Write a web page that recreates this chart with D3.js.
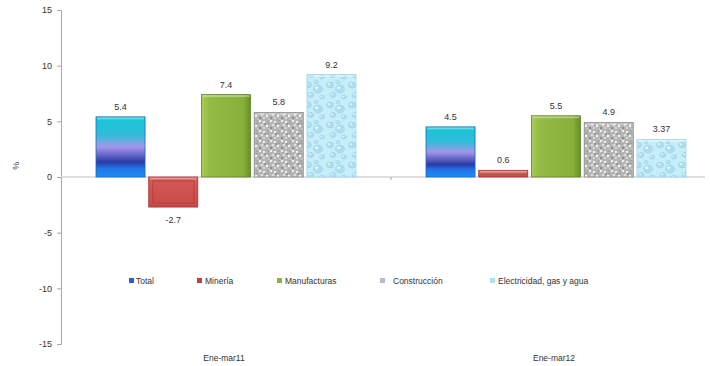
<!DOCTYPE html>
<html><head><meta charset="utf-8">
<script src="https://cdn.jsdelivr.net/npm/d3@7"></script>
<style>body{margin:0;background:#fff}svg{display:block}</style>
</head><body>
<script>
const categories = ["Ene-mar11", "Ene-mar12"];
const series = ["Total", "Minería", "Manufacturas", "Construcción", "Electricidad, gas y agua"];
const valueLabels = [["5.4", "-2.7", "7.4", "5.8", "9.2"], ["4.5", "0.6", "5.5", "4.9", "3.37"]];
const values = [[5.4, -2.7, 7.4, 5.8, 9.2], [4.5, 0.6, 5.5, 4.9, 3.37]];
const yTicks = [-15, -10, -5, 0, 5, 10, 15];

const W = 710, H = 366;
const svg = d3.select("body").append("svg").attr("width", W).attr("height", H);
const defs = svg.append("defs");
const font = "'Liberation Sans', Arial, sans-serif";

// gradients / patterns
const gT = defs.append("linearGradient").attr("id", "gTotal").attr("x1", 0).attr("y1", 0).attr("x2", 0).attr("y2", 1);
[[0, "#16c6d6"], [0.3, "#30bcd8"], [0.5, "#a496ec"], [0.62, "#6a6cc8"], [0.75, "#2a3aa8"], [0.86, "#2276e8"], [1, "#1a8ef0"]]
  .forEach(([o, c]) => gT.append("stop").attr("offset", o).attr("stop-color", c));
const gM = defs.append("linearGradient").attr("id", "gMan").attr("x1", 0).attr("y1", 0).attr("x2", 1).attr("y2", 0);
[[0, "#a8cc58"], [0.15, "#94bc44"], [0.85, "#86b03a"], [1, "#668e28"]]
  .forEach(([o, c]) => gM.append("stop").attr("offset", o).attr("stop-color", c));
const gR = defs.append("linearGradient").attr("id", "gMin").attr("x1", 0).attr("y1", 0).attr("x2", 0).attr("y2", 1);
[[0, "#d85a56"], [1, "#c84a46"]].forEach(([o, c]) => gR.append("stop").attr("offset", o).attr("stop-color", c));

// granite texture (deterministic)
const pc = defs.append("pattern").attr("id", "pCon").attr("patternUnits", "userSpaceOnUse").attr("width", 11).attr("height", 10);
pc.append("rect").attr("width", 11).attr("height", 10).attr("fill", "#b4b4b4");
[[1,1,1.3,"#eeeeee"],[5,2,1.1,"#ffffff"],[3,5,1.4,"#dcdcdc"],[8,6,1.2,"#f4f4f4"],[1,8,0.9,"#7a7a7a"],[6,4,0.7,"#6c6c6c"],[5,8,1.0,"#e6e6e6"],[9,1,0.6,"#808080"],[2,3,0.6,"#8a8a8a"],[10,9,0.8,"#d8d8d8"],[9,3.5,0.5,"#707070"]]
  .forEach(([x, y, r, c]) => pc.append("circle").attr("cx", x).attr("cy", y).attr("r", r).attr("fill", c));
// water drops
const pw = defs.append("pattern").attr("id", "pEle").attr("patternUnits", "userSpaceOnUse").attr("width", 22).attr("height", 20);
pw.append("rect").attr("width", 22).attr("height", 20).attr("fill", "#c6eef8");
[[5,5,3.5,3],[15,9,4.5,4],[8,15,3,2.5],[19,17,2.5,2],[13,2,2,1.6]]
  .forEach(([x, y, rx, ry]) => {
    pw.append("ellipse").attr("cx", x).attr("cy", y).attr("rx", rx).attr("ry", ry).attr("fill", "#acdeef").attr("stroke", "#94cde2").attr("stroke-width", 0.5);
    pw.append("ellipse").attr("cx", x - rx * 0.3).attr("cy", y - ry * 0.3).attr("rx", rx * 0.35).attr("ry", ry * 0.3).attr("fill", "#eefaff");
  });

const fills = ["url(#gTotal)", "url(#gMin)", "url(#gMan)", "url(#pCon)", "url(#pEle)"];
const strokes = ["#1a6ab8", "#9a3432", "#5e8424", "#8a8a8a", "#a0d8ea"];
const legendFills = ["#2a60c8", "#c0403c", "#8cb43a", "#b8bcc8", "#a8e4f4"];

const y = d3.scaleLinear().domain([-15, 15]).range([344, 10]);
const x0 = d3.scaleBand().domain(categories).range([61, 721]);
const x1 = d3.scaleBand().domain(series).range([35, 295]).paddingInner(0.07);

// y axis
const yAxis = svg.append("g").attr("transform", "translate(61,0)")
  .call(d3.axisLeft(y).tickValues(yTicks).tickSize(4).tickPadding(5).tickFormat(d => String(d)));
yAxis.select(".domain").attr("stroke", "#a8a8a8").attr("stroke-width", 1);
yAxis.selectAll(".tick line").attr("stroke", "#a8a8a8");
yAxis.selectAll("text").attr("font-family", font).attr("font-size", 9).attr("fill", "#333");

svg.append("text").attr("transform", `translate(19,${y(1)}) rotate(-90)`).attr("text-anchor", "middle")
  .attr("font-family", font).attr("font-size", 9).attr("fill", "#333").text("%");

// zero line
svg.append("line").attr("x1", 61).attr("x2", 705).attr("y1", y(0)).attr("y2", y(0))
  .attr("stroke", "#d4d4d4").attr("stroke-width", 1.6);
svg.append("line").attr("x1", x0("Ene-mar12")).attr("x2", x0("Ene-mar12")).attr("y1", y(0)).attr("y2", y(0) + 3)
  .attr("stroke", "#a8a8a8");

// bars
categories.forEach((cat, ci) => {
  const g = svg.append("g").attr("transform", `translate(${x0(cat)},0)`);
  series.forEach((s, si) => {
    const v = values[ci][si];
    const bx = x1(s), bw = x1.bandwidth();
    const top = y(Math.max(0, v)), h = Math.abs(y(v) - y(0));
    g.append("rect").attr("x", bx).attr("y", top).attr("width", bw).attr("height", h)
      .attr("fill", fills[si]).attr("stroke", strokes[si]).attr("stroke-width", 0.8);
    g.append("rect").attr("x", bx + 1).attr("y", top + 0.5).attr("width", bw - 2).attr("height", Math.min(2, h))
      .attr("fill", "#fff").attr("opacity", 0.35);
    if (si === 1) {
      g.append("rect").attr("x", bx + 4).attr("y", top + 4).attr("width", Math.max(0, bw - 8)).attr("height", Math.max(0, h - 8))
        .attr("fill", "none").attr("stroke", "#a83c3a").attr("stroke-width", 1).attr("opacity", 0.7);
    }
    const ly = v >= 0 ? y(v) - 7 : y(v) + 16;
    g.append("text").attr("x", bx + bw / 2).attr("y", ly).attr("text-anchor", "middle")
      .attr("font-family", font).attr("font-size", 9).attr("fill", "#333").text(valueLabels[ci][si]);
  });
});

// category labels
categories.forEach(cat => {
  svg.append("text").attr("x", x0(cat) + 163).attr("y", 361).attr("text-anchor", "middle")
    .attr("font-family", font).attr("font-size", 8.5).attr("fill", "#333").text(cat);
});

// legend
const legX = [129, 197, 277, 380, 490];
const legTX = [136, 205, 285, 393, 498];
series.forEach((s, i) => {
  svg.append("rect").attr("x", legX[i]).attr("y", 278).attr("width", 5).attr("height", 5).attr("fill", legendFills[i]);
  svg.append("text").attr("x", legTX[i]).attr("y", 284).attr("font-family", font).attr("font-size", 8.5)
    .attr("fill", "#333").text(s);
});
</script>
</body></html>
